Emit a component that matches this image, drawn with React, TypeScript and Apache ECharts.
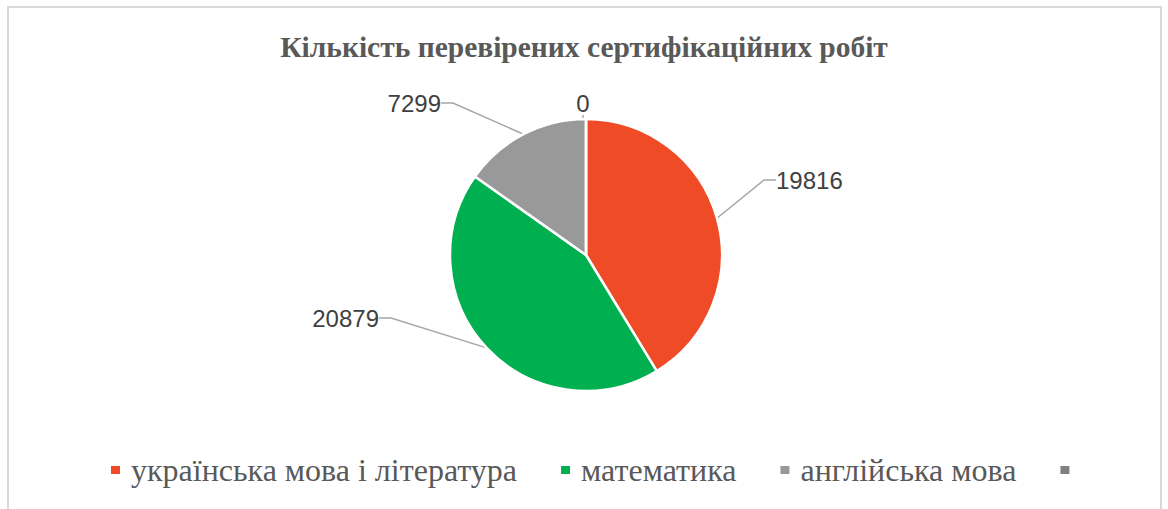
import React, { useEffect, useRef } from "react";
import * as echarts from "echarts";

const titleText = "Кількість перевірених сертифікаційних робіт";
const categories = ["українська мова і література", "математика", "англійська мова", " "];
const values = [19816, 20879, 7299, 0];
const colors = ["#EE4B26", "#00B050", "#999999", "#808080"];
// label placement relative to pie centre: [dx, dy, align]
const labelOffsets: [number, number, string][] = [
  [190, -75, "left"],
  [-207, 63, "right"],
  [-145, -152, "right"],
  [-3, -152, "center"],
];

const CX = 586;
const CY = 255;

export default function App() {
  const ref = useRef<HTMLDivElement>(null);
  useEffect(() => {
    if (!ref.current) return;
    const chart = echarts.init(ref.current, null, { renderer: "svg" });
    chart.setOption({
      animation: false,
      backgroundColor: "#ffffff",
      title: {
        text: titleText,
        left: "center",
        top: 27,
        textStyle: {
          fontFamily: "Liberation Serif",
          fontWeight: "bold",
          fontSize: 29.5,
          color: "#595959",
        },
      },
      legend: {
        data: categories,
        bottom: 18,
        left: 104,
        icon: "rect",
        itemWidth: 11,
        itemHeight: 10,
        itemGap: 42,
        textStyle: {
          fontFamily: "Liberation Serif",
          fontSize: 32,
          color: "#595959",
          padding: [0, 0, 0, 5],
        },
      },
      graphic: [
        {
          type: "rect",
          shape: { x: 8, y: 7, width: 1153, height: 600 },
          style: { fill: "none", stroke: "#D9D9D9", lineWidth: 2 },
          silent: true,
        },
      ],
      series: [
        {
          type: "pie",
          center: [CX, CY],
          radius: [0, 136],
          startAngle: 90,
          clockwise: true,
          data: categories.map((n, i) => ({
            name: n,
            value: values[i],
            itemStyle: { color: colors[i] },
          })),
          itemStyle: { borderColor: "#ffffff", borderWidth: 2.5 },
          label: {
            show: true,
            formatter: "{c}",
            fontFamily: "Liberation Sans",
            fontSize: 24,
            color: "#404040",
          },
          labelLine: {
            show: true,
            length: 15,
            length2: 12,
            lineStyle: { color: "#A6A6A6", width: 1.5 },
          },
          labelLayout: (p: any) => {
            const o = labelOffsets[p.dataIndex];
            return {
              x: CX + o[0],
              y: CY + o[1],
              align: o[2],
              verticalAlign: "middle",
            };
          },
          emphasis: { disabled: true },
        },
      ],
    });
    return () => chart.dispose();
  }, []);
  return (
    <div
      ref={ref}
      style={{ position: "absolute", left: 0, top: 0, width: 1168, height: 509 }}
    />
  );
}
